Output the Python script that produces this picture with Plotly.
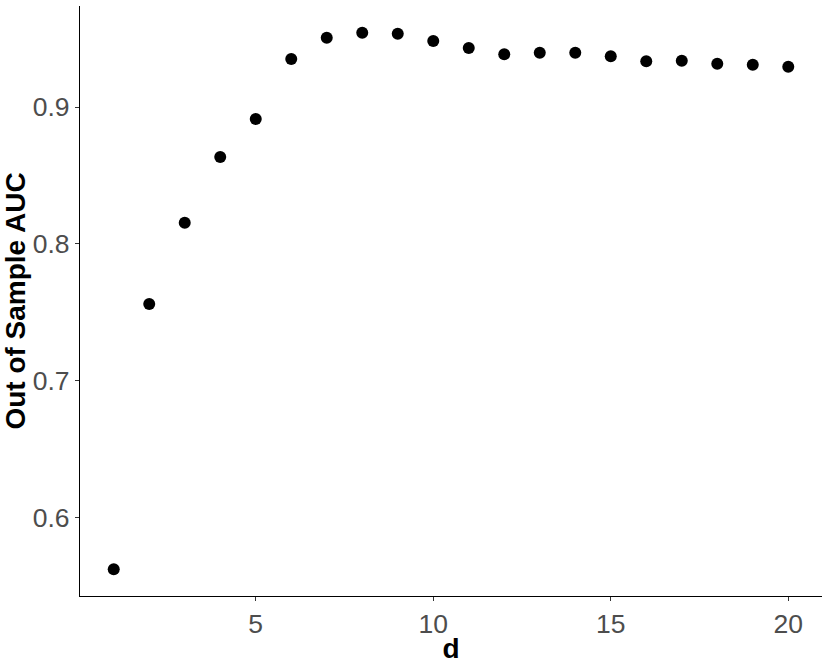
import plotly.graph_objects as go

d_values = list(range(1, 21))
auc_values = [0.5623, 0.756, 0.8155, 0.8635, 0.8912, 0.935, 0.9506, 0.9542, 0.9535, 0.9482,
              0.9431, 0.9385, 0.9396, 0.9396, 0.937, 0.9334, 0.9338, 0.9316, 0.9309, 0.9294]
x_ticks = [5, 10, 15, 20]
y_ticks = [0.6, 0.7, 0.8, 0.9]

fig = go.Figure(go.Scatter(
    x=d_values, y=auc_values, mode="markers",
    marker=dict(color="black", size=12, line=dict(width=0)),
    showlegend=False,
))

font_family = "Liberation Sans, Arial, sans-serif"
lo, hi = min(auc_values), max(auc_values)
pad = (hi - lo) * 0.05
xpad = (max(d_values) - min(d_values)) * 0.05

fig.update_layout(
    width=830, height=664,
    margin=dict(l=80, r=8, t=6, b=68),
    paper_bgcolor="white", plot_bgcolor="white",
    font=dict(family=font_family),
)
fig.update_xaxes(
    range=[min(d_values) - xpad, max(d_values) + xpad],
    tickvals=x_ticks, ticktext=[str(v) for v in x_ticks],
    showgrid=False, zeroline=False, automargin=False,
    showline=True, linecolor="black", linewidth=1.2,
    ticks="outside", ticklen=4, tickcolor="#333333", tickwidth=1,
    tickfont=dict(size=26.5, color="#4D4D4D", family=font_family),
    title=dict(text="<b>d</b>", font=dict(size=28, color="black", family=font_family), standoff=2),
)
fig.update_yaxes(
    range=[lo - pad, hi + pad],
    tickvals=y_ticks, ticktext=[f"{v:.1f}" for v in y_ticks],
    showgrid=False, zeroline=False, automargin=False,
    showline=True, linecolor="black", linewidth=1.2,
    ticks="outside", ticklen=4, tickcolor="#333333", tickwidth=1,
    tickfont=dict(size=26.5, color="#4D4D4D", family=font_family),
    title=dict(text="<b>Out of Sample AUC</b>", font=dict(size=28, color="black", family=font_family), standoff=4),
)

fig.write_html("out.html", config={"displayModeBar": False},
               post_script="document.body.style.margin='0';")
